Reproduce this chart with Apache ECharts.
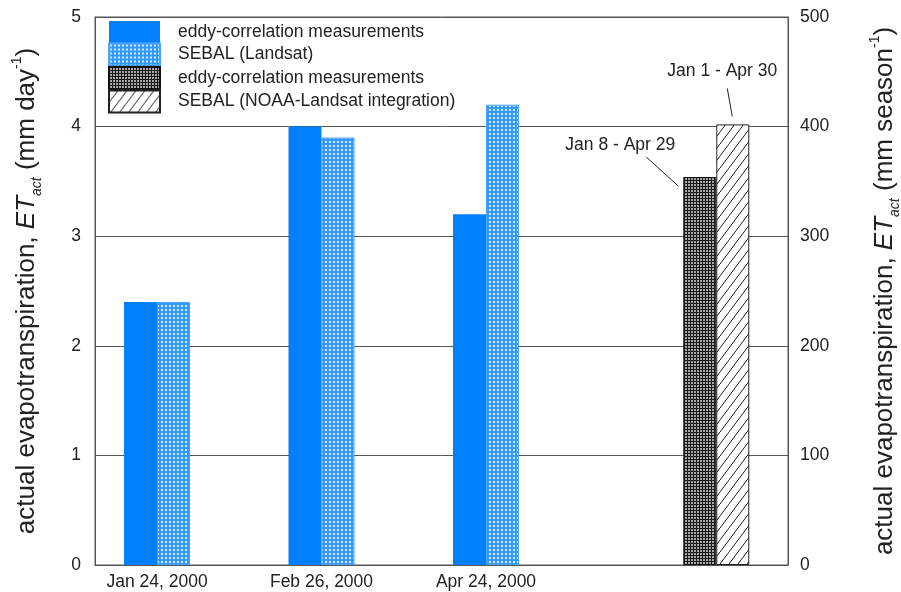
<!DOCTYPE html>
<html>
<head>
<meta charset="utf-8">
<script src="https://cdn.jsdelivr.net/npm/echarts@6/dist/echarts.min.js"></script>
<style>
  html, body { margin: 0; padding: 0; background: #fff; }
  #myChart { width: 901px; height: 592px; }
</style>
</head>
<body>
<div id="myChart"></div>
<script>
// data
const dateLabels = ["Jan 24, 2000", "Feb 26, 2000", "Apr 24, 2000"];
const datePos = [1, 2, 3];
const eddyDaily = [2.4, 4.0, 3.2];
const sebalLandsat = [2.4, 3.9, 4.2];
const seasonPos = [4.4];
const eddySeason = [354];
const sebalSeason = [402];
const seasonNotes = ["Jan 8 - Apr 29", "Jan 1 - Apr 30"];
const seriesNames = [
  "eddy-correlation measurements",
  "SEBAL (Landsat)",
  "eddy-correlation measurements ", // trailing space keeps legend entries apart
  "SEBAL (NOAA-Landsat integration)"
];

const FONT = "Liberation Sans, Arial, sans-serif";

// small canvas tiles for the hatch fills
function tile(w, h, draw) {
  const c = document.createElement("canvas");
  c.width = w;
  c.height = h;
  draw(c.getContext("2d"), w, h);
  return { image: c, repeat: "repeat" };
}
const bluePattern = tile(4, 4, function (ctx) {
  ctx.fillStyle = "#3399ff";
  ctx.fillRect(0, 0, 4, 4);
  ctx.fillStyle = "#d6ebff";
  ctx.fillRect(1, 1, 2, 2);
});
const darkPattern = tile(3, 3, function (ctx) {
  ctx.fillStyle = "#1a1a1a";
  ctx.fillRect(0, 0, 3, 3);
  ctx.fillStyle = "#a8a8a8";
  ctx.fillRect(1, 1, 2, 2);
});
const hatchPattern = tile(9, 12, function (ctx, w, h) {
  ctx.fillStyle = "#fff";
  ctx.fillRect(0, 0, w, h);
  ctx.strokeStyle = "#222";
  ctx.lineWidth = 1;
  [-1, 0, 1].forEach(function (k) {
    ctx.beginPath();
    ctx.moveTo(k * w, h * (1 - k));
    ctx.lineTo((k + 1) * w, -k * h);
    ctx.stroke();
  });
});

const xMin = 0.623, xMax = 4.836;
function titleRich() {
  return {
    a: { fontFamily: FONT, fontSize: 26, color: "#222", lineHeight: 34 },
    i: { fontFamily: FONT, fontSize: 26, color: "#222", lineHeight: 34, fontStyle: "italic" },
    sub: { fontFamily: FONT, fontSize: 14, color: "#222", lineHeight: 34, fontStyle: "italic", verticalAlign: "bottom" },
    sup: { fontFamily: FONT, fontSize: 14, color: "#222", lineHeight: 34, verticalAlign: "top" }
  };
}

let myChart = echarts.init(document.getElementById("myChart"));
myChart.setOption({
  animation: false,
  backgroundColor: "#fff",
  textStyle: { fontFamily: FONT },
  grid: {
    left: 95, right: 113, top: 17, bottom: 27,
    outerBoundsMode: "none",
    containLabel: false,
    show: true, borderColor: "#555", borderWidth: 1
  },
  legend: {
    orient: "vertical",
    left: 95, top: 17,
    padding: [4, 8, 4, 13],
    itemWidth: 51, itemHeight: 22, itemGap: -0.5,
    icon: "rect",
    selectedMode: false,
    data: seriesNames,
    textStyle: { fontSize: 17.5, color: "#222", lineHeight: 18, padding: [0, 0, 0, 13] }
  },
  xAxis: [
    {
      type: "value", min: xMin, max: xMax,
      axisLine: { show: true, lineStyle: { color: "#555" } },
      axisTick: { show: false },
      splitLine: { show: false },
      axisLabel: {
        customValues: datePos,
        formatter: function (v) { return dateLabels[datePos.indexOf(v)] || ""; },
        fontSize: 17.5, color: "#222", margin: 8
      }
    },
    { type: "value", min: xMin, max: xMax, show: false }
  ],
  yAxis: [
    {
      type: "value", min: 0, max: 5, interval: 1,
      name: "{a|actual evapotranspiration, }{i|ET}{sub|act}{a| (mm day}{sup|-1}{a|)}",
      nameLocation: "middle", nameRotate: 90, nameGap: 51,
      nameTextStyle: { rich: titleRich() },
      axisLine: { show: true, lineStyle: { color: "#555" } },
      axisTick: { show: false },
      splitLine: { lineStyle: { color: "#555", width: 1 } },
      axisLabel: { fontSize: 17.5, color: "#222", margin: 14 }
    },
    {
      type: "value", min: 0, max: 500, interval: 100, position: "right",
      name: "{a|actual evapotranspiration, }{i|ET}{sub|act}{a| (mm season}{sup|-1}{a|)}",
      nameLocation: "middle", nameRotate: 90, nameGap: 80,
      nameTextStyle: { rich: titleRich() },
      axisLine: { show: true, lineStyle: { color: "#555" } },
      axisTick: { show: false },
      splitLine: { show: false },
      axisLabel: { fontSize: 17.5, color: "#222", margin: 12 }
    }
  ],
  series: [
    {
      name: seriesNames[0], type: "bar", xAxisIndex: 0, yAxisIndex: 0,
      barWidth: 33, barGap: "0%",
      itemStyle: { color: "#0080ff" },
      data: datePos.map(function (p, i) { return [p, eddyDaily[i]]; })
    },
    {
      name: seriesNames[1], type: "bar", xAxisIndex: 0, yAxisIndex: 0,
      barWidth: 33, barGap: "0%",
      itemStyle: { color: bluePattern, borderColor: "#4aa3ff", borderWidth: 1 },
      data: datePos.map(function (p, i) { return [p, sebalLandsat[i]]; })
    },
    {
      name: seriesNames[2], type: "bar", xAxisIndex: 1, yAxisIndex: 1,
      barWidth: 33, barGap: "0%",
      itemStyle: { color: darkPattern, borderColor: "#111", borderWidth: 1 },
      data: seasonPos.map(function (p, i) { return [p, eddySeason[i]]; })
    },
    {
      name: seriesNames[3], type: "bar", xAxisIndex: 1, yAxisIndex: 1,
      barWidth: 33, barGap: "0%",
      itemStyle: { color: hatchPattern, borderColor: "#222", borderWidth: 1 },
      data: seasonPos.map(function (p, i) { return [p, sebalSeason[i]]; })
    }
  ]
});

// notes with leader lines above the season bars
let p1 = myChart.convertToPixel({ xAxisIndex: 1, yAxisIndex: 1 }, [seasonPos[0], eddySeason[0]]);
let p2 = myChart.convertToPixel({ xAxisIndex: 1, yAxisIndex: 1 }, [seasonPos[0], sebalSeason[0]]);
const noteStyle = { fontFamily: FONT, fontSize: 17.5, fill: "#222", align: "center", verticalAlign: "middle" };
myChart.setOption({
  graphic: [
    { type: "text", x: p1[0] - 96, y: p1[1] - 32, style: Object.assign({ text: seasonNotes[0] }, noteStyle) },
    { type: "line", shape: { x1: p1[0] - 70, y1: p1[1] - 20, x2: p1[0] - 38, y2: p1[1] + 9 }, style: { stroke: "#222", lineWidth: 1 } },
    { type: "text", x: p2[0] + 6, y: p2[1] - 53, style: Object.assign({ text: seasonNotes[1] }, noteStyle) },
    { type: "line", shape: { x1: p2[0] + 11, y1: p2[1] - 36, x2: p2[0] + 16, y2: p2[1] - 8 }, style: { stroke: "#222", lineWidth: 1 } }
  ]
});
</script>
</body>
</html>
